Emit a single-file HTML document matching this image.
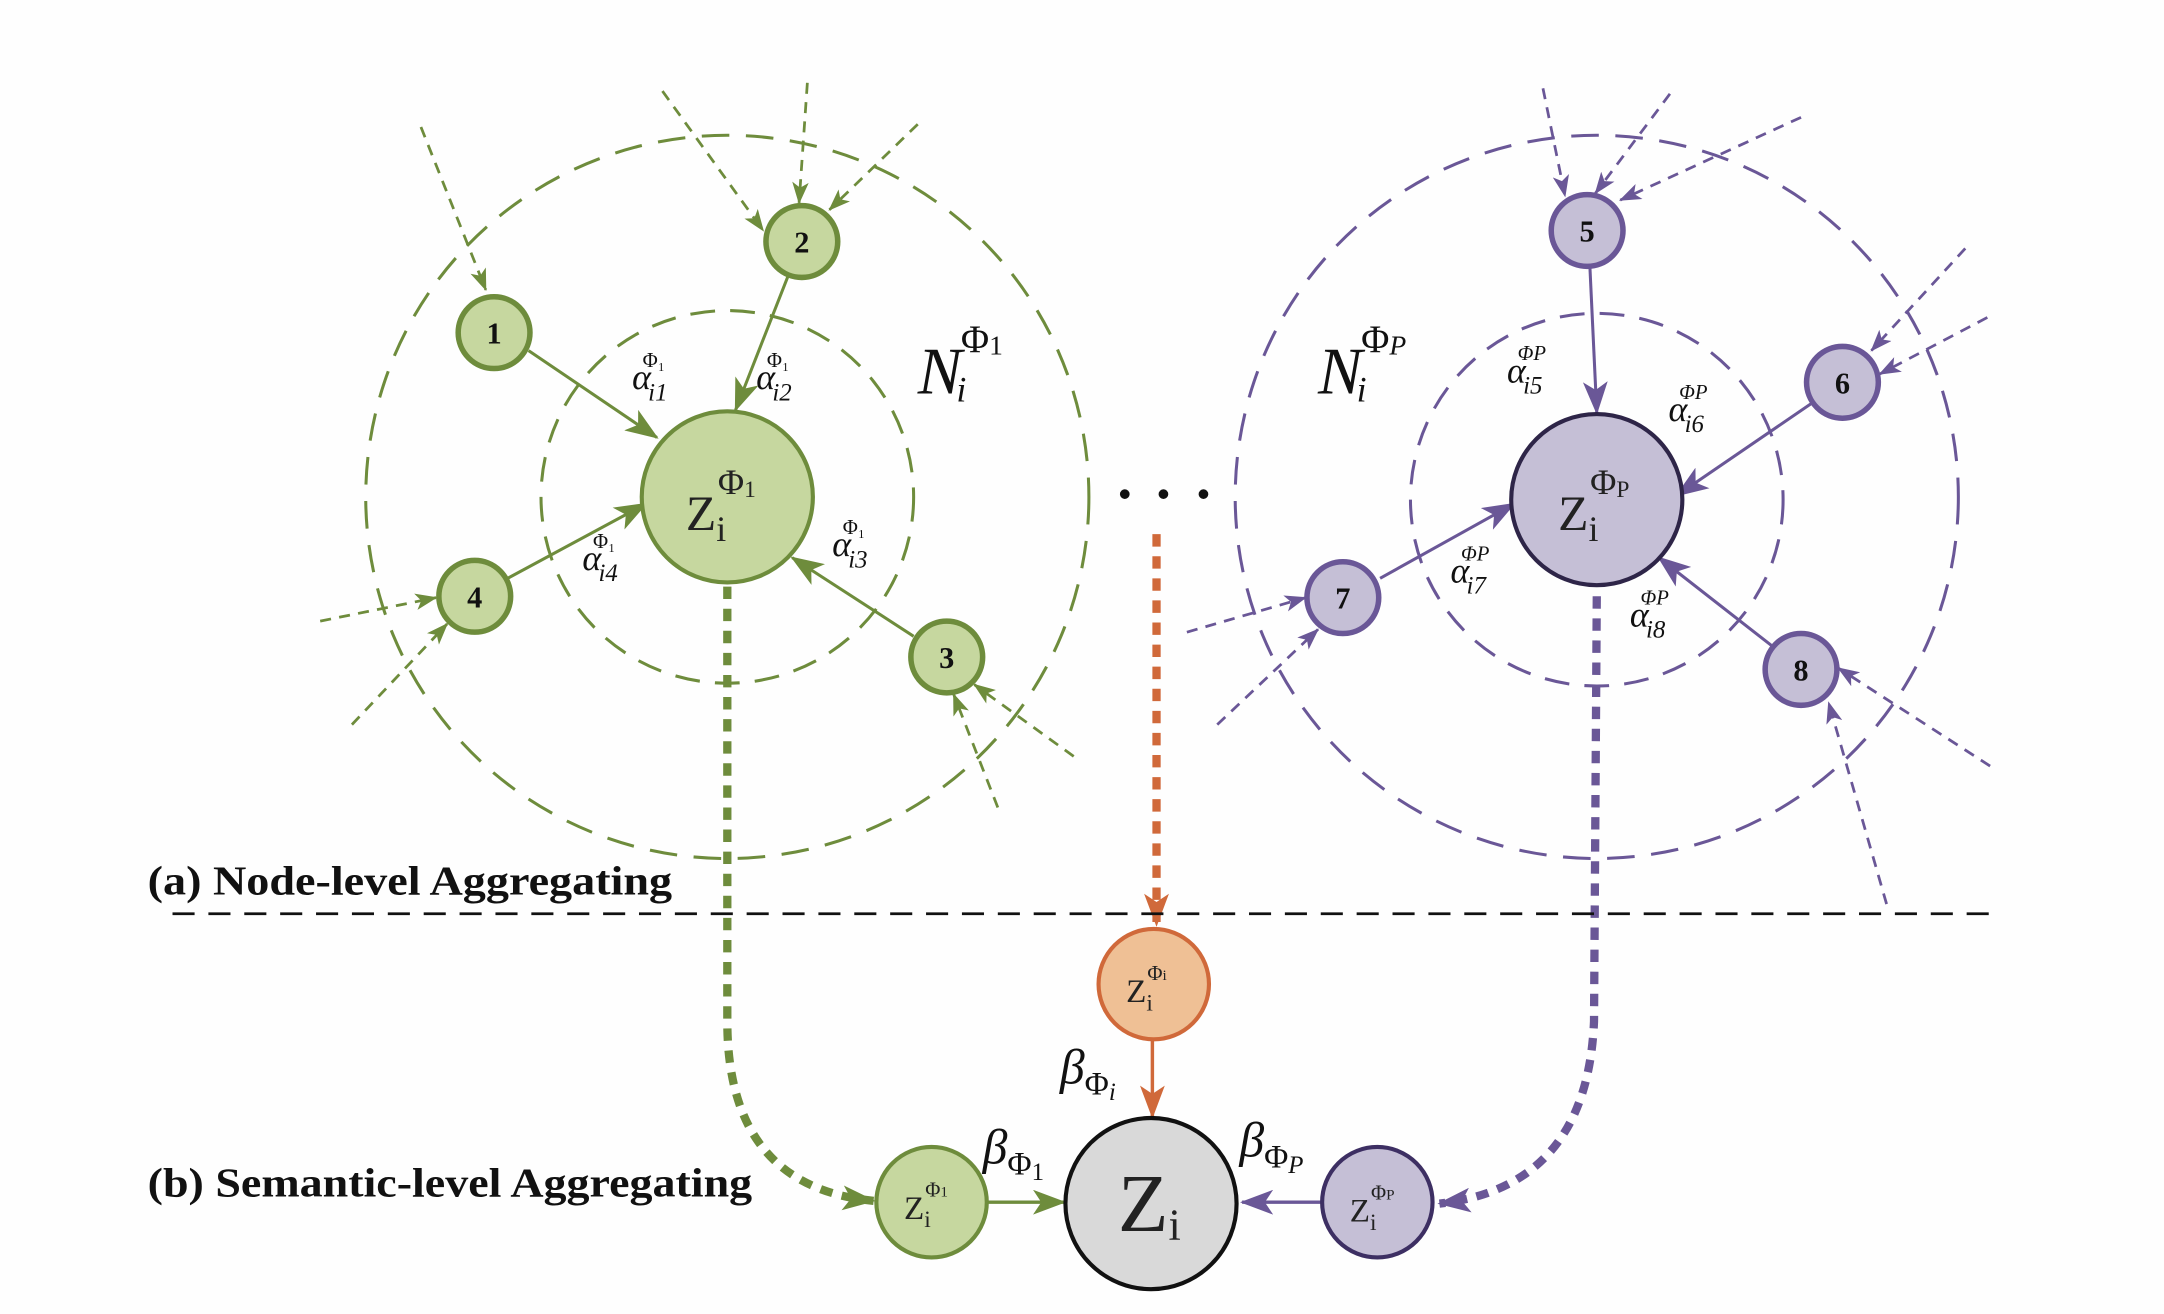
<!DOCTYPE html>
<html><head><meta charset="utf-8"><style>
html,body{margin:0;padding:0;background:#fff;}
svg{display:block;}
text{font-family:"Liberation Serif",serif;}
</style></head><body>
<svg width="2164" height="1314" viewBox="0 0 1568 952" preserveAspectRatio="none" xmlns="http://www.w3.org/2000/svg">
<defs>
<marker id="ag" viewBox="0 0 16 12" refX="15" refY="6" markerWidth="16" markerHeight="12" orient="auto" markerUnits="userSpaceOnUse"><path d="M0,0 L16,6 L0,12 L4,6 z" fill="#6e8c3c"/></marker>
<marker id="ap" viewBox="0 0 16 12" refX="15" refY="6" markerWidth="16" markerHeight="12" orient="auto" markerUnits="userSpaceOnUse"><path d="M0,0 L16,6 L0,12 L4,6 z" fill="#6a5797"/></marker>
<marker id="agb" viewBox="0 0 16 12" refX="15" refY="6" markerWidth="24" markerHeight="18" orient="auto" markerUnits="userSpaceOnUse"><path d="M0,0 L16,6 L0,12 L4,6 z" fill="#6e8c3c"/></marker>
<marker id="apb" viewBox="0 0 16 12" refX="15" refY="6" markerWidth="24" markerHeight="18" orient="auto" markerUnits="userSpaceOnUse"><path d="M0,0 L16,6 L0,12 L4,6 z" fill="#6a5797"/></marker>
<marker id="aob" viewBox="0 0 16 12" refX="15" refY="6" markerWidth="24" markerHeight="18" orient="auto" markerUnits="userSpaceOnUse"><path d="M0,0 L16,6 L0,12 L4,6 z" fill="#d0693a"/></marker>
</defs>
<rect width="1568" height="952" fill="#fefefe"/>

<g stroke="#6e8c3c" fill="none" stroke-width="2.2">
<circle cx="527" cy="360" r="262" stroke-dasharray="20,12"/>
<circle cx="527" cy="360" r="135" stroke-dasharray="18,11"/>
<g stroke-width="2" stroke-dasharray="8,6">
<line x1="305" y1="92" x2="352" y2="210" marker-end="url(#ag)"/>
<line x1="480" y1="66" x2="553" y2="167" marker-end="url(#ag)"/>
<line x1="585" y1="60" x2="579" y2="147" marker-end="url(#ag)"/>
<line x1="665" y1="90" x2="601" y2="152" marker-end="url(#ag)"/>
<line x1="232" y1="450" x2="316" y2="433" marker-end="url(#ag)"/>
<line x1="255" y1="525" x2="324" y2="452" marker-end="url(#ag)"/>
<line x1="778" y1="548" x2="706" y2="496" marker-end="url(#ag)"/>
<line x1="723" y1="585" x2="691" y2="503" marker-end="url(#ag)"/>
</g>
<line x1="383" y1="254" x2="476" y2="317" marker-end="url(#agb)"/>
<line x1="571" y1="200" x2="533" y2="297" marker-end="url(#agb)"/>
<line x1="366" y1="420" x2="468" y2="365" marker-end="url(#agb)"/>
<line x1="662" y1="461" x2="574" y2="404" marker-end="url(#agb)"/>
<path d="M527,425 L527,740 Q527,860 633,870" stroke-width="6" stroke-dasharray="9,7" marker-end="url(#agb)"/>
</g>
<g stroke="#6e8c3c" stroke-width="4" fill="#c6d79f">
<circle cx="358" cy="241" r="26"/><circle cx="581" cy="175" r="26"/>
<circle cx="344" cy="432" r="26"/><circle cx="686" cy="476" r="26"/>
<circle cx="527" cy="360" r="62" stroke-width="3"/>
<circle cx="675" cy="871" r="40" stroke-width="3"/>
</g>

<g stroke="#6a5797" fill="none" stroke-width="2.2">
<circle cx="1157" cy="360" r="262" stroke-dasharray="20,12"/>
<circle cx="1157" cy="362" r="135" stroke-dasharray="18,11"/>
<g stroke-width="2" stroke-dasharray="8,6">
<line x1="1118" y1="64" x2="1134" y2="142" marker-end="url(#ap)"/>
<line x1="1210" y1="68" x2="1156" y2="140" marker-end="url(#ap)"/>
<line x1="1305" y1="85" x2="1174" y2="145" marker-end="url(#ap)"/>
<line x1="1424" y1="180" x2="1356" y2="254" marker-end="url(#ap)"/>
<line x1="1440" y1="230" x2="1362" y2="271" marker-end="url(#ap)"/>
<line x1="860" y1="458" x2="946" y2="433" marker-end="url(#ap)"/>
<line x1="882" y1="525" x2="955" y2="456" marker-end="url(#ap)"/>
<line x1="1442" y1="555" x2="1332" y2="484" marker-end="url(#ap)"/>
<line x1="1367" y1="655" x2="1325" y2="509" marker-end="url(#ap)"/>
</g>
<line x1="1152" y1="193" x2="1157" y2="299" marker-end="url(#apb)"/>
<line x1="1313" y1="292" x2="1215" y2="359" marker-end="url(#apb)"/>
<line x1="1000" y1="419" x2="1097" y2="365" marker-end="url(#apb)"/>
<line x1="1284" y1="468" x2="1202" y2="404" marker-end="url(#apb)"/>
<path d="M1157,432 L1155,740 Q1150,860 1043,872" stroke-width="6" stroke-dasharray="9,7" marker-end="url(#apb)"/>
<line x1="958" y1="871" x2="900" y2="871" stroke-width="2.5" marker-end="url(#apb)"/>
</g>
<g stroke="#6a5797" stroke-width="4" fill="#c5bfd6">
<circle cx="1150" cy="167" r="26"/><circle cx="1335" cy="277" r="26"/>
<circle cx="973" cy="433" r="26"/><circle cx="1305" cy="485" r="26"/>
</g>
<circle cx="1157" cy="362" r="62" fill="#c5bfd6" stroke="#2e2548" stroke-width="3"/>
<circle cx="998" cy="871" r="40" fill="#c5bfd6" stroke="#3d2f63" stroke-width="3"/>

<line x1="838" y1="387" x2="838" y2="670" stroke="#d0693a" stroke-width="6" stroke-dasharray="9,7" marker-end="url(#aob)"/>
<circle cx="836" cy="713" r="40" fill="#efc095" stroke="#d0693a" stroke-width="3"/>
<line x1="835" y1="753" x2="835" y2="809" stroke="#d0693a" stroke-width="2.5" marker-end="url(#aob)"/>
<line x1="716" y1="871" x2="771" y2="871" stroke="#6e8c3c" stroke-width="2.5" marker-end="url(#agb)"/>
<circle cx="834" cy="872" r="62" fill="#d9d9d9" stroke="#111" stroke-width="3"/>

<circle cx="815" cy="358" r="3.5" fill="#111"/><circle cx="843" cy="358" r="3.5" fill="#111"/><circle cx="872" cy="358" r="3.5" fill="#111"/>
<line x1="125" y1="662" x2="1450" y2="662" stroke="#111" stroke-width="2" stroke-dasharray="16,10"/>

<g font-weight="bold" font-size="22" text-anchor="middle" fill="#111">
<text x="358" y="249">1</text><text x="581" y="183">2</text><text x="344" y="440">4</text><text x="686" y="484">3</text>
<text x="1150" y="175">5</text><text x="1335" y="285">6</text><text x="973" y="441">7</text><text x="1305" y="493">8</text>
</g>
<g font-weight="bold" font-size="30" fill="#111">
<text x="107" y="648" textLength="380" lengthAdjust="spacingAndGlyphs">(a) Node-level Aggregating</text>
<text x="107" y="867" textLength="438" lengthAdjust="spacingAndGlyphs">(b) Semantic-level Aggregating</text>
</g>
<g fill="#222">
<text x="497" y="384" font-size="36">Z<tspan font-size="26" dy="8">i</tspan><tspan font-size="26" dx="-6" dy="-34">Φ</tspan><tspan font-size="17" dy="2">1</tspan></text>
<text x="1129" y="384" font-size="36">Z<tspan font-size="26" dy="8">i</tspan><tspan font-size="26" dx="-6" dy="-34">Φ</tspan><tspan font-size="17" dy="2">P</tspan></text>
<text x="655" y="883" font-size="24">Z<tspan font-size="17" dy="6">i</tspan><tspan font-size="15" dx="-4" dy="-22">Φ</tspan><tspan font-size="11">1</tspan></text>
<text x="816" y="726" font-size="24">Z<tspan font-size="17" dy="6">i</tspan><tspan font-size="15" dx="-4" dy="-22">Φ</tspan><tspan font-size="11">i</tspan></text>
<text x="978" y="885" font-size="24">Z<tspan font-size="17" dy="6">i</tspan><tspan font-size="15" dx="-4" dy="-22">Φ</tspan><tspan font-size="11">P</tspan></text>
<text x="810" y="892" font-size="60">Z<tspan font-size="32" dy="6">i</tspan></text>
</g>
<g fill="#111" font-style="italic">
<text x="665" y="285" font-size="48">N<tspan font-size="26" dx="-4" dy="6">i</tspan><tspan font-size="28" font-style="normal" dx="-4" dy="-36">Φ</tspan><tspan font-size="20" font-style="normal" dy="2">1</tspan></text>
<text x="955" y="285" font-size="48">N<tspan font-size="26" dx="-4" dy="6">i</tspan><tspan font-size="28" font-style="normal" dx="-4" dy="-36">Φ</tspan><tspan font-size="20" dy="2">P</tspan></text>
<text x="768" y="785" font-size="36">β<tspan font-size="24" font-style="normal" dy="8">Φ</tspan><tspan font-size="18" dy="4">i</tspan></text>
<text x="712" y="843" font-size="36">β<tspan font-size="24" font-style="normal" dy="8">Φ</tspan><tspan font-size="18" font-style="normal" dy="4">1</tspan></text>
<text x="898" y="838" font-size="36">β<tspan font-size="24" font-style="normal" dy="8">Φ</tspan><tspan font-size="18" dy="4">P</tspan></text>
</g>
<g fill="#111" font-style="italic" font-size="26">
<text x="458" y="282">α<tspan font-size="18" dx="-2" dy="8">i1</tspan><tspan font-size="15" font-style="normal" dx="-18" dy="-24">Φ₁</tspan></text>
<text x="548" y="282">α<tspan font-size="18" dx="-2" dy="8">i2</tspan><tspan font-size="15" font-style="normal" dx="-18" dy="-24">Φ₁</tspan></text>
<text x="422" y="413">α<tspan font-size="18" dx="-2" dy="8">i4</tspan><tspan font-size="15" font-style="normal" dx="-18" dy="-24">Φ₁</tspan></text>
<text x="603" y="403">α<tspan font-size="18" dx="-2" dy="8">i3</tspan><tspan font-size="15" font-style="normal" dx="-18" dy="-24">Φ₁</tspan></text>
<text x="1092" y="277">α<tspan font-size="18" dx="-2" dy="8">i5</tspan><tspan font-size="15" dx="-18" dy="-24">ΦP</tspan></text>
<text x="1209" y="305">α<tspan font-size="18" dx="-2" dy="8">i6</tspan><tspan font-size="15" dx="-18" dy="-24">ΦP</tspan></text>
<text x="1051" y="422">α<tspan font-size="18" dx="-2" dy="8">i7</tspan><tspan font-size="15" dx="-18" dy="-24">ΦP</tspan></text>
<text x="1181" y="454">α<tspan font-size="18" dx="-2" dy="8">i8</tspan><tspan font-size="15" dx="-18" dy="-24">ΦP</tspan></text>
</g>
</svg>
</body></html>
